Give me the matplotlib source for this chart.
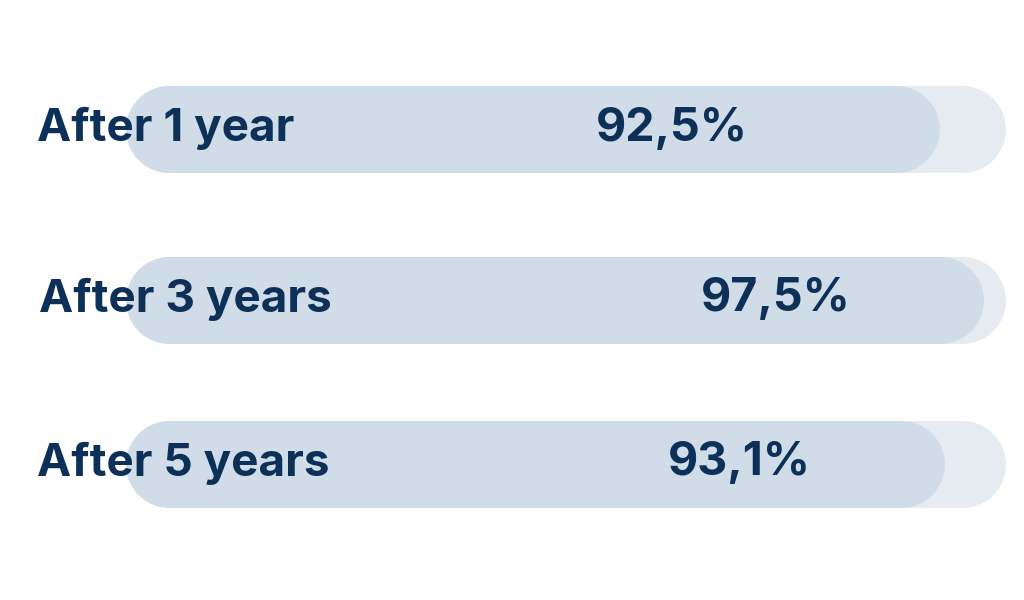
import matplotlib.pyplot as plt

# data
categories = ['After 1 year', 'After 3 years', 'After 5 years']
values = [92.5, 97.5, 93.1]
value_labels = ['92,5%', '97,5%', '93,1%']
# where the value text sits along the bar (percent units)
label_x = [62.2, 73.9, 69.8]

navy = '#0c3057'
fill = '#d0dde9'
track = '#e6ebf1'

W, H, DPI = 1024, 600, 100
fig = plt.figure(figsize=(W / DPI, H / DPI), dpi=DPI)
ax = fig.add_axes([0, 0, 1, 1])

# 0% at px 125, 100% at px 1005
px_per_unit = 880 / 100
ax.set_xlim(-125 / px_per_unit, (W - 125) / px_per_unit)
# y in pixels from the top, rows are not quite evenly spaced
ax.set_ylim(H, 0)
row_y = [128.5, 299.5, 463.5]
label_left = [37, 39, 37]
ax.axis('off')

bar_h_px = 87
lw = bar_h_px * 72 / DPI
r = (bar_h_px / 2) / px_per_unit

for i, (cat, v, lab, lx) in enumerate(zip(categories, values, value_labels, label_x)):
    y = row_y[i]
    ax.plot([r, 100 - r], [y, y], color=track, lw=lw, solid_capstyle='round', zorder=1)
    ax.plot([r, v - r], [y, y], color=fill, lw=lw, solid_capstyle='round', zorder=2)
    ax.text((label_left[i] - 125) / px_per_unit, y, cat, ha='left', va='center', fontsize=33,
            fontweight='bold', color=navy, family='Inter', zorder=3)
    ax.text(lx, y, lab, ha='center', va='center', fontsize=33.5,
            fontweight='bold', color=navy, family='Inter', zorder=3)

plt.savefig('out.png', dpi=DPI)
